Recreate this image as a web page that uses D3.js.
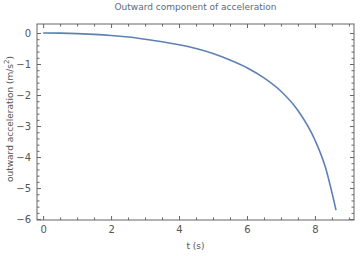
<!DOCTYPE html>
<html>
<head>
<meta charset="utf-8">
<script src="https://cdn.jsdelivr.net/npm/d3@7"></script>
<style>
body { margin: 0; background: #fff; }
text { font-family: "DejaVu Sans", sans-serif; }
</style>
</head>
<body>
<div id="chart"></div>
<script>
// values
var tValues = [0, 0.5, 1, 1.5, 2, 2.5, 3, 3.5, 4, 4.5, 5, 5.5, 6, 6.5, 7, 7.5, 8, 8.3, 8.62];
var accValues = [0, -0.005, -0.02, -0.045, -0.08, -0.13, -0.2, -0.28, -0.38, -0.5, -0.66, -0.87, -1.12, -1.45, -1.88, -2.5, -3.45, -4.3, -5.71];
var xTicks = [0, 2, 4, 6, 8];
var yTicks = [0, -1, -2, -3, -4, -5, -6];

var data = tValues.map(function (t, i) {
    return { t: t, a: accValues[i] };
});

var width = 360, height = 256;
var margin = { top: 24, right: 6, bottom: 36, left: 37 };
var w = width - margin.left - margin.right;
var h = height - margin.top - margin.bottom;

var frameColor = "#666";
var textColor = "#555";

var svg = d3.select("#chart").append("svg")
    .attr("width", width)
    .attr("height", height);

var g = svg.append("g")
    .attr("transform", "translate(" + margin.left + "," + margin.top + ")");

var x = d3.scaleLinear().domain([-0.18, 9.15]).range([0, w]);
var y = d3.scaleLinear().domain([0.29, -6.03]).range([0, h]);

var xMinor = d3.range(0, 9.01, 0.5).filter(function (d) { return d % 2 !== 0; });
var yMinor = d3.range(0, 30).map(function (i) { return -i * 0.2; })
    .filter(function (d) { return Math.abs(d - Math.round(d)) > 1e-6; });

// frame ticks on all four sides, pointing inward
function tickAxis(axisFn, scale, major, minor, labels) {
    var ax = axisFn(scale).tickValues(major).tickSizeInner(-4).tickSizeOuter(0).tickPadding(6);
    if (!labels) ax.tickFormat("");
    else ax.tickFormat(function (d) { return d < 0 ? "\u2212" + Math.abs(d) : d; });
    var mi = axisFn(scale).tickValues(minor).tickSizeInner(-2.5).tickSizeOuter(0).tickFormat("");
    return [ax, mi];
}

var sides = [
    { fn: d3.axisBottom, sc: x, maj: xTicks, min: xMinor, lab: true, tr: "translate(0," + h + ")" },
    { fn: d3.axisTop, sc: x, maj: xTicks, min: xMinor, lab: false, tr: "translate(0,0)" },
    { fn: d3.axisLeft, sc: y, maj: yTicks, min: yMinor, lab: true, tr: "translate(0,0)" },
    { fn: d3.axisRight, sc: y, maj: yTicks, min: yMinor, lab: false, tr: "translate(" + w + ",0)" }
];

sides.forEach(function (s) {
    var axes = tickAxis(s.fn, s.sc, s.maj, s.min, s.lab);
    axes.forEach(function (ax) {
        var a = g.append("g").attr("transform", s.tr).call(ax);
        a.select(".domain").remove();
        a.selectAll("line").attr("stroke", frameColor);
        a.selectAll("text").attr("fill", textColor).style("font-size", "10px");
    });
});

// frame
g.append("rect")
    .attr("width", w)
    .attr("height", h)
    .attr("fill", "none")
    .attr("stroke", frameColor)
    .attr("stroke-width", 1);

// curve
var line = d3.line()
    .x(function (d) { return x(d.t); })
    .y(function (d) { return y(d.a); })
    .curve(d3.curveMonotoneX);

g.append("path")
    .datum(data)
    .attr("d", line)
    .attr("fill", "none")
    .attr("stroke", "#5E81B5")
    .attr("stroke-width", 1.6);

// title and labels
svg.append("text")
    .attr("x", margin.left + w / 2)
    .attr("y", 10)
    .attr("text-anchor", "middle")
    .attr("fill", "#5a6a7a")
    .style("font-size", "9px")
    .text("Outward component of acceleration");

svg.append("text")
    .attr("x", margin.left + w / 2)
    .attr("y", height - 7)
    .attr("text-anchor", "middle")
    .attr("fill", textColor)
    .style("font-size", "9px")
    .text("t (s)");

var yl = svg.append("text")
    .attr("transform", "translate(13," + (margin.top + h / 2 - 3) + ") rotate(-90)")
    .attr("text-anchor", "middle")
    .attr("fill", textColor)
    .style("font-size", "9px");
yl.append("tspan").text("outward acceleration (m/s");
yl.append("tspan").attr("dy", -4).style("font-size", "7px").text("2");
yl.append("tspan").attr("dy", 4).text(")");
</script>
</body>
</html>
